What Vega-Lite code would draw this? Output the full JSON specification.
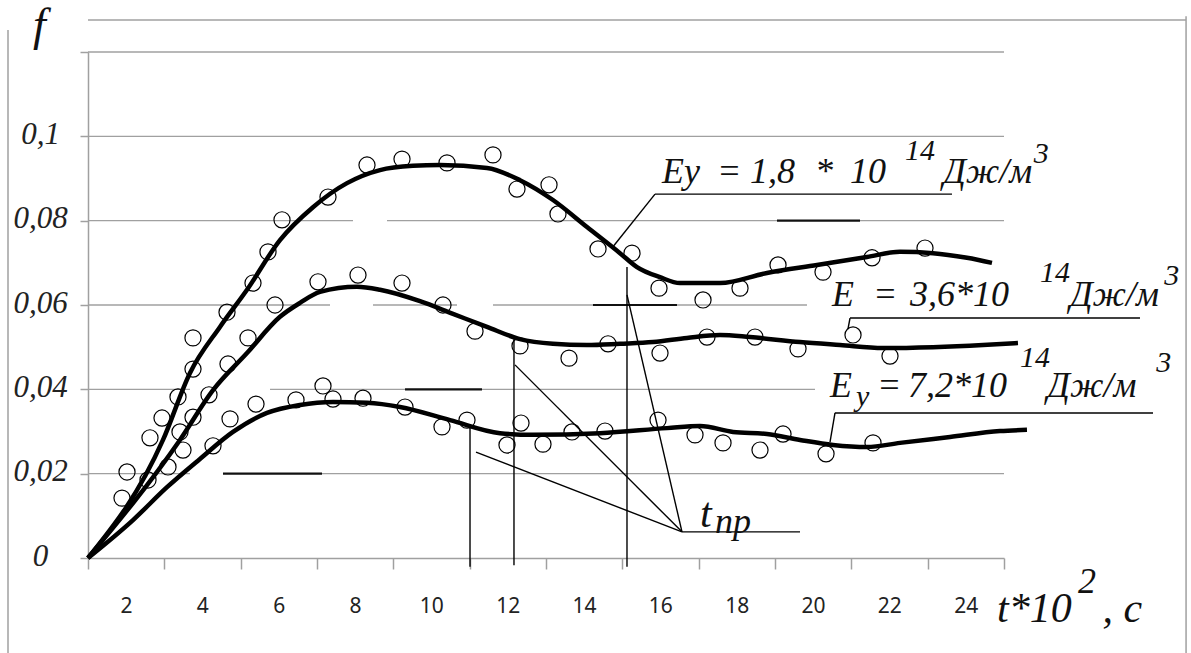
{
  "$schema": "https://vega.github.io/schema/vega-lite/v6.json",
  "width": 916,
  "height": 506,
  "autosize": "none",
  "padding": {"left": 88, "top": 52, "right": 187, "bottom": 95},
  "background": "white",
  "config": {
    "view": {"stroke": null},
    "axisX": {"title": null, "grid": false, "domainColor": "#a0a0a0", "domainWidth": 1.5, "tickColor": "#a0a0a0", "tickWidth": 1.5, "tickSize": 11,
      "labelOffset": 38, "labelPadding": 26, "labelFont": "Noto Sans", "labelFontSize": 21, "labelColor": "#222", "labelOverlap": false, "labelFlush": false, "labelBaseline": "top"},
    "axisY": {"title": null, "grid": false, "domainColor": "#a0a0a0", "domainWidth": 1.5, "tickColor": "#a0a0a0", "tickWidth": 1.5, "tickSize": 8,
      "labelAlign": "center", "labelPadding": 40, "labelBaseline": "alphabetic", "labelOffset": 7,
      "labelFont": "Liberation Serif", "labelFontStyle": "italic", "labelFontSize": 31, "labelColor": "#222", "labelOverlap": false, "labelFlush": false}
  },
  "datasets": {
    "curves": [
      {"s": "1.8", "x": 0, "y": 0}, {"s": "1.8", "x": 1.965, "y": 0.028}, {"s": "1.8", "x": 2.672, "y": 0.0439}, {"s": "1.8", "x": 3.458, "y": 0.0548}, {"s": "1.8", "x": 4.166, "y": 0.0636}, {"s": "1.8", "x": 5.03, "y": 0.0754}, {"s": "1.8", "x": 5.895, "y": 0.0832}, {"s": "1.8", "x": 6.786, "y": 0.0889}, {"s": "1.8", "x": 7.651, "y": 0.092}, {"s": "1.8", "x": 8.515, "y": 0.093}, {"s": "1.8", "x": 9.223, "y": 0.0932}, {"s": "1.8", "x": 10.454, "y": 0.0925}, {"s": "1.8", "x": 11.319, "y": 0.0896}, {"s": "1.8", "x": 12.183, "y": 0.0849}, {"s": "1.8", "x": 13.074, "y": 0.0785}, {"s": "1.8", "x": 13.939, "y": 0.0723}, {"s": "1.8", "x": 14.384, "y": 0.069}, {"s": "1.8", "x": 14.987, "y": 0.0666}, {"s": "1.8", "x": 15.511, "y": 0.0652}, {"s": "1.8", "x": 16.559, "y": 0.0652}, {"s": "1.8", "x": 17.79, "y": 0.0676}, {"s": "1.8", "x": 19.1, "y": 0.0695}, {"s": "1.8", "x": 20.41, "y": 0.0714}, {"s": "1.8", "x": 21.275, "y": 0.0726}, {"s": "1.8", "x": 22.139, "y": 0.0723}, {"s": "1.8", "x": 23.03, "y": 0.0712}, {"s": "1.8", "x": 23.685, "y": 0.07},
      {"s": "3.6", "x": 0, "y": 0}, {"s": "3.6", "x": 2.41, "y": 0.028}, {"s": "3.6", "x": 3.275, "y": 0.0398}, {"s": "3.6", "x": 4.166, "y": 0.0486}, {"s": "3.6", "x": 5.03, "y": 0.0572}, {"s": "3.6", "x": 5.555, "y": 0.0605}, {"s": "3.6", "x": 6.079, "y": 0.0631}, {"s": "3.6", "x": 7.048, "y": 0.0643}, {"s": "3.6", "x": 7.651, "y": 0.0636}, {"s": "3.6", "x": 8.699, "y": 0.0609}, {"s": "3.6", "x": 9.563, "y": 0.0579}, {"s": "3.6", "x": 10.454, "y": 0.0548}, {"s": "3.6", "x": 11.319, "y": 0.0519}, {"s": "3.6", "x": 12.183, "y": 0.0508}, {"s": "3.6", "x": 13.074, "y": 0.0505}, {"s": "3.6", "x": 13.939, "y": 0.0508}, {"s": "3.6", "x": 14.803, "y": 0.0512}, {"s": "3.6", "x": 15.694, "y": 0.0522}, {"s": "3.6", "x": 16.559, "y": 0.0529}, {"s": "3.6", "x": 17.345, "y": 0.0524}, {"s": "3.6", "x": 18.655, "y": 0.0512}, {"s": "3.6", "x": 19.703, "y": 0.0505}, {"s": "3.6", "x": 20.83, "y": 0.0498}, {"s": "3.6", "x": 22.139, "y": 0.05}, {"s": "3.6", "x": 23.449, "y": 0.0505}, {"s": "3.6", "x": 24.366, "y": 0.051},
      {"s": "7.2", "x": 0, "y": 0}, {"s": "7.2", "x": 1.179, "y": 0.009}, {"s": "7.2", "x": 2.07, "y": 0.0168}, {"s": "7.2", "x": 2.934, "y": 0.0235}, {"s": "7.2", "x": 3.799, "y": 0.0299}, {"s": "7.2", "x": 4.69, "y": 0.0344}, {"s": "7.2", "x": 5.555, "y": 0.0363}, {"s": "7.2", "x": 6.419, "y": 0.037}, {"s": "7.2", "x": 7.31, "y": 0.0368}, {"s": "7.2", "x": 8.175, "y": 0.0358}, {"s": "7.2", "x": 9.485, "y": 0.0327}, {"s": "7.2", "x": 10.795, "y": 0.0296}, {"s": "7.2", "x": 11.659, "y": 0.0292}, {"s": "7.2", "x": 13.415, "y": 0.0296}, {"s": "7.2", "x": 15.17, "y": 0.0308}, {"s": "7.2", "x": 16.035, "y": 0.0313}, {"s": "7.2", "x": 16.9, "y": 0.0299}, {"s": "7.2", "x": 17.79, "y": 0.0294}, {"s": "7.2", "x": 18.655, "y": 0.028}, {"s": "7.2", "x": 19.52, "y": 0.0268}, {"s": "7.2", "x": 20.41, "y": 0.0263}, {"s": "7.2", "x": 21.275, "y": 0.0273}, {"s": "7.2", "x": 22.585, "y": 0.0287}, {"s": "7.2", "x": 23.895, "y": 0.0301}, {"s": "7.2", "x": 24.602, "y": 0.0304}
    ],
    "pts": [
      {"s": "1.8", "x": 0.891, "y": 0.0142}, {"s": "1.8", "x": 1.022, "y": 0.0204}, {"s": "1.8", "x": 1.624, "y": 0.0285}, {"s": "1.8", "x": 1.939, "y": 0.0332}, {"s": "1.8", "x": 2.358, "y": 0.0382}, {"s": "1.8", "x": 2.751, "y": 0.0448}, {"s": "1.8", "x": 2.751, "y": 0.0522}, {"s": "1.8", "x": 3.642, "y": 0.0583}, {"s": "1.8", "x": 4.323, "y": 0.0652}, {"s": "1.8", "x": 4.716, "y": 0.0726}, {"s": "1.8", "x": 5.083, "y": 0.0802}, {"s": "1.8", "x": 6.288, "y": 0.0856}, {"s": "1.8", "x": 7.31, "y": 0.0932}, {"s": "1.8", "x": 8.227, "y": 0.0946}, {"s": "1.8", "x": 9.406, "y": 0.0937}, {"s": "1.8", "x": 10.611, "y": 0.0956}, {"s": "1.8", "x": 11.24, "y": 0.0875}, {"s": "1.8", "x": 12.079, "y": 0.0885}, {"s": "1.8", "x": 12.314, "y": 0.0816}, {"s": "1.8", "x": 13.363, "y": 0.0733}, {"s": "1.8", "x": 14.253, "y": 0.0723}, {"s": "1.8", "x": 14.961, "y": 0.064}, {"s": "1.8", "x": 16.114, "y": 0.0612}, {"s": "1.8", "x": 17.083, "y": 0.064}, {"s": "1.8", "x": 18.079, "y": 0.0695}, {"s": "1.8", "x": 19.258, "y": 0.0678}, {"s": "1.8", "x": 20.542, "y": 0.0712}, {"s": "1.8", "x": 21.93, "y": 0.0735},
      {"s": "3.6", "x": 1.572, "y": 0.0185}, {"s": "3.6", "x": 2.096, "y": 0.0216}, {"s": "3.6", "x": 2.489, "y": 0.0256}, {"s": "3.6", "x": 2.41, "y": 0.0299}, {"s": "3.6", "x": 2.751, "y": 0.0334}, {"s": "3.6", "x": 3.17, "y": 0.0387}, {"s": "3.6", "x": 3.668, "y": 0.046}, {"s": "3.6", "x": 4.192, "y": 0.0522}, {"s": "3.6", "x": 4.9, "y": 0.06}, {"s": "3.6", "x": 6.026, "y": 0.0655}, {"s": "3.6", "x": 7.074, "y": 0.0671}, {"s": "3.6", "x": 8.227, "y": 0.0652}, {"s": "3.6", "x": 9.301, "y": 0.06}, {"s": "3.6", "x": 10.14, "y": 0.0538}, {"s": "3.6", "x": 11.319, "y": 0.0503}, {"s": "3.6", "x": 12.603, "y": 0.0474}, {"s": "3.6", "x": 13.625, "y": 0.0508}, {"s": "3.6", "x": 14.987, "y": 0.0486}, {"s": "3.6", "x": 16.218, "y": 0.0524}, {"s": "3.6", "x": 17.476, "y": 0.0524}, {"s": "3.6", "x": 18.603, "y": 0.0496}, {"s": "3.6", "x": 20.044, "y": 0.0529}, {"s": "3.6", "x": 21.013, "y": 0.0479},
      {"s": "7.2", "x": 3.275, "y": 0.0266}, {"s": "7.2", "x": 3.721, "y": 0.033}, {"s": "7.2", "x": 4.402, "y": 0.0365}, {"s": "7.2", "x": 5.45, "y": 0.0375}, {"s": "7.2", "x": 6.157, "y": 0.0408}, {"s": "7.2", "x": 6.419, "y": 0.0377}, {"s": "7.2", "x": 7.205, "y": 0.0379}, {"s": "7.2", "x": 8.306, "y": 0.0358}, {"s": "7.2", "x": 9.275, "y": 0.0311}, {"s": "7.2", "x": 9.93, "y": 0.0327}, {"s": "7.2", "x": 10.978, "y": 0.0268}, {"s": "7.2", "x": 11.345, "y": 0.032}, {"s": "7.2", "x": 11.921, "y": 0.027}, {"s": "7.2", "x": 12.681, "y": 0.0299}, {"s": "7.2", "x": 13.546, "y": 0.0301}, {"s": "7.2", "x": 14.935, "y": 0.0327}, {"s": "7.2", "x": 15.904, "y": 0.0292}, {"s": "7.2", "x": 16.638, "y": 0.0273}, {"s": "7.2", "x": 17.607, "y": 0.0256}, {"s": "7.2", "x": 18.21, "y": 0.0294}, {"s": "7.2", "x": 19.337, "y": 0.0247}, {"s": "7.2", "x": 20.568, "y": 0.0273}
    ],
    "grid": [
      {"k": "g", "y": 0.02, "x": 0, "x2": 2.672}, {"k": "d", "y": 0.02, "x": 3.537, "x2": 6.131}, {"k": "g", "y": 0.02, "x": 6.131, "x2": 24},
      {"k": "g", "y": 0.04, "x": 0, "x2": 2.672}, {"k": "g", "y": 0.04, "x": 4.769, "x2": 8.306}, {"k": "d", "y": 0.04, "x": 8.306, "x2": 10.323}, {"k": "g", "y": 0.04, "x": 10.323, "x2": 19.048},
      {"k": "g", "y": 0.06, "x": 0, "x2": 6.341}, {"k": "g", "y": 0.06, "x": 7.467, "x2": 9.668}, {"k": "g", "y": 0.06, "x": 10.611, "x2": 13.231}, {"k": "d", "y": 0.06, "x": 13.231, "x2": 15.432}, {"k": "g", "y": 0.06, "x": 15.432, "x2": 18.838},
      {"k": "g", "y": 0.08, "x": 0, "x2": 6.943}, {"k": "g", "y": 0.08, "x": 7.834, "x2": 18.052}, {"k": "d", "y": 0.08, "x": 18.052, "x2": 20.227}, {"k": "g", "y": 0.08, "x": 20.227, "x2": 24},
      {"k": "g", "y": 0.1, "x": 0, "x2": 24},
      {"k": "g", "y": 0.12, "x": 0, "x2": 24}
    ],
    "frame": [
      {"x": 0, "y": 0.1276, "x2": 28.77, "y2": 0.1276},
      {"x": -2.096, "y": 0.1252, "x2": -2.096, "y2": -0.0225},
      {"x": 28.77, "y": 0.1285, "x2": 28.77, "y2": -0.0225}
    ],
    "leaders": [
      {"x": 10.009, "y": 0.0311, "x2": 10.009, "y2": -0.0021},
      {"x": 11.161, "y": 0.0519, "x2": 11.161, "y2": -0.0017},
      {"x": 14.122, "y": 0.069, "x2": 14.122, "y2": -0.0021},
      {"x": 15.563, "y": 0.0062, "x2": 10.166, "y2": 0.0251},
      {"x": 15.563, "y": 0.0062, "x2": 11.188, "y2": 0.0458},
      {"x": 15.563, "y": 0.0062, "x2": 14.122, "y2": 0.0624},
      {"x": 15.563, "y": 0.0062, "x2": 18.655, "y2": 0.0062},
      {"x": 14.856, "y": 0.0863, "x2": 22.637, "y2": 0.0863},
      {"x": 14.856, "y": 0.0863, "x2": 13.755, "y2": 0.0738},
      {"x": 19.965, "y": 0.0569, "x2": 27.563, "y2": 0.0569},
      {"x": 19.965, "y": 0.0569, "x2": 19.912, "y2": 0.0543},
      {"x": 19.572, "y": 0.0344, "x2": 27.904, "y2": 0.0344},
      {"x": 19.572, "y": 0.0344, "x2": 19.441, "y2": 0.0275}
    ],
    "texts": [
      {"k": "main", "t": "Eу", "x": 15.039, "y": 0.0889},
      {"k": "main", "t": "=", "x": 16.48, "y": 0.0889},
      {"k": "main", "t": "1,8", "x": 17.345, "y": 0.0889},
      {"k": "main", "t": "*", "x": 19.048, "y": 0.0889},
      {"k": "main", "t": "10", "x": 19.965, "y": 0.0889},
      {"k": "sup", "t": "14", "x": 21.406, "y": 0.0944},
      {"k": "main", "t": "Дж/м", "x": 22.4, "y": 0.0889},
      {"k": "sup", "t": "3", "x": 24.78, "y": 0.0936},
      {"k": "main", "t": "E", "x": 19.493, "y": 0.0598},
      {"k": "main", "t": "=", "x": 20.567, "y": 0.0598},
      {"k": "main", "t": "3,6*10", "x": 21.537, "y": 0.0598},
      {"k": "sup", "t": "14", "x": 24.943, "y": 0.0655},
      {"k": "main", "t": "Дж/м", "x": 25.72, "y": 0.0598},
      {"k": "sup", "t": "3", "x": 28.2, "y": 0.0648},
      {"k": "main", "t": "E", "x": 19.441, "y": 0.0382},
      {"k": "sub", "t": "у", "x": 20.122, "y": 0.036},
      {"k": "main", "t": "=", "x": 20.672, "y": 0.0382},
      {"k": "main", "t": "7,2*10", "x": 21.485, "y": 0.0382},
      {"k": "sup", "t": "14", "x": 24.419, "y": 0.0453},
      {"k": "main", "t": "Дж/м", "x": 25.127, "y": 0.0382},
      {"k": "sup", "t": "3", "x": 27.99, "y": 0.044},
      {"k": "tp", "t": "t", "x": 16.035, "y": 0.0074},
      {"k": "tpsub", "t": "пр", "x": 16.428, "y": 0.0059},
      {"k": "title", "t": "t*10", "x": 23.816, "y": -0.0152},
      {"k": "titlesup", "t": "2", "x": 25.939, "y": -0.0083},
      {"k": "title", "t": ", c", "x": 26.58, "y": -0.0152},
      {"k": "f", "t": "f", "x": -1.441, "y": 0.1228}
    ]
  },
  "layer": [
    {
      "data": {"name": "grid"},
      "mark": {"type": "rule", "clip": false},
      "encoding": {
        "x": {"field": "x", "type": "quantitative", "title": null, "scale": {"domain": [0, 24], "nice": false, "zero": false},
          "axis": {"values": [0, 2, 4, 6, 8, 10, 12, 14, 16, 18, 20, 22, 24], "labelExpr": "datum.value < 24 ? '' + (datum.value + 2) : ''"}},
        "x2": {"field": "x2"},
        "y": {"field": "y", "type": "quantitative", "title": null, "scale": {"domain": [0, 0.12], "nice": false, "zero": false},
          "axis": {"values": [0, 0.02, 0.04, 0.06, 0.08, 0.1, 0.12],
            "labelExpr": "datum.value == 0 ? '0' : (datum.value > 0.11 ? '' : replace(format(datum.value, '.2~f'), '.', ','))"}},
        "color": {"field": "k", "type": "nominal", "scale": {"domain": ["g", "d"], "range": ["#a0a0a0", "#111111"]}, "legend": null},
        "strokeWidth": {"field": "k", "type": "nominal", "scale": {"type": "ordinal", "domain": ["g", "d"], "range": [1.4, 2.2]}, "legend": null}
      }
    },
    {
      "data": {"name": "frame"},
      "mark": {"type": "rule", "clip": false, "color": "#a0a0a0", "strokeWidth": 1.5},
      "encoding": {
        "x": {"field": "x", "type": "quantitative", "title": null},
        "y": {"field": "y", "type": "quantitative", "title": null},
        "x2": {"field": "x2"},
        "y2": {"field": "y2"}
      }
    },
    {
      "data": {"name": "leaders"},
      "mark": {"type": "rule", "clip": false, "color": "#000", "strokeWidth": 1.4},
      "encoding": {
        "x": {"field": "x", "type": "quantitative", "title": null},
        "y": {"field": "y", "type": "quantitative", "title": null},
        "x2": {"field": "x2"},
        "y2": {"field": "y2"}
      }
    },
    {
      "data": {"name": "curves"},
      "mark": {"type": "line", "interpolate": "monotone", "color": "#000", "strokeWidth": 4.5, "clip": false},
      "encoding": {
        "x": {"field": "x", "type": "quantitative", "title": null},
        "y": {"field": "y", "type": "quantitative", "title": null},
        "detail": {"field": "s", "type": "nominal"}
      }
    },
    {
      "data": {"name": "pts"},
      "mark": {"type": "point", "shape": "circle", "filled": false, "color": "#000", "strokeWidth": 1.2, "size": 260, "opacity": 1},
      "encoding": {
        "x": {"field": "x", "type": "quantitative", "title": null},
        "y": {"field": "y", "type": "quantitative", "title": null}
      }
    },
    {
      "data": {"name": "texts"},
      "transform": [{"filter": "datum.k == 'main'"}],
      "mark": {"type": "text", "align": "left", "baseline": "alphabetic", "font": "Liberation Serif", "fontStyle": "italic", "fontSize": 36, "color": "#111", "clip": false},
      "encoding": {"x": {"field": "x", "type": "quantitative", "title": null}, "y": {"field": "y", "type": "quantitative", "title": null}, "text": {"field": "t"}}
    },
    {
      "data": {"name": "texts"},
      "transform": [{"filter": "datum.k == 'sup' || datum.k == 'sub'"}],
      "mark": {"type": "text", "align": "left", "baseline": "alphabetic", "font": "Liberation Serif", "fontStyle": "italic", "fontSize": 30, "color": "#111", "clip": false},
      "encoding": {"x": {"field": "x", "type": "quantitative", "title": null}, "y": {"field": "y", "type": "quantitative", "title": null}, "text": {"field": "t"}}
    },
    {
      "data": {"name": "texts"},
      "transform": [{"filter": "datum.k == 'tp' || datum.k == 'title'"}],
      "mark": {"type": "text", "align": "left", "baseline": "alphabetic", "font": "Liberation Serif", "fontStyle": "italic", "fontSize": 42, "color": "#111", "clip": false},
      "encoding": {"x": {"field": "x", "type": "quantitative", "title": null}, "y": {"field": "y", "type": "quantitative", "title": null}, "text": {"field": "t"}}
    },
    {
      "data": {"name": "texts"},
      "transform": [{"filter": "datum.k == 'tpsub' || datum.k == 'titlesup'"}],
      "mark": {"type": "text", "align": "left", "baseline": "alphabetic", "font": "Liberation Serif", "fontStyle": "italic", "fontSize": 36, "color": "#111", "clip": false},
      "encoding": {"x": {"field": "x", "type": "quantitative", "title": null}, "y": {"field": "y", "type": "quantitative", "title": null}, "text": {"field": "t"}}
    },
    {
      "data": {"name": "texts"},
      "transform": [{"filter": "datum.k == 'f'"}],
      "mark": {"type": "text", "align": "left", "baseline": "alphabetic", "font": "Liberation Serif", "fontStyle": "italic", "fontSize": 46, "color": "#111", "clip": false},
      "encoding": {"x": {"field": "x", "type": "quantitative", "title": null}, "y": {"field": "y", "type": "quantitative", "title": null}, "text": {"field": "t"}}
    }
  ]
}
